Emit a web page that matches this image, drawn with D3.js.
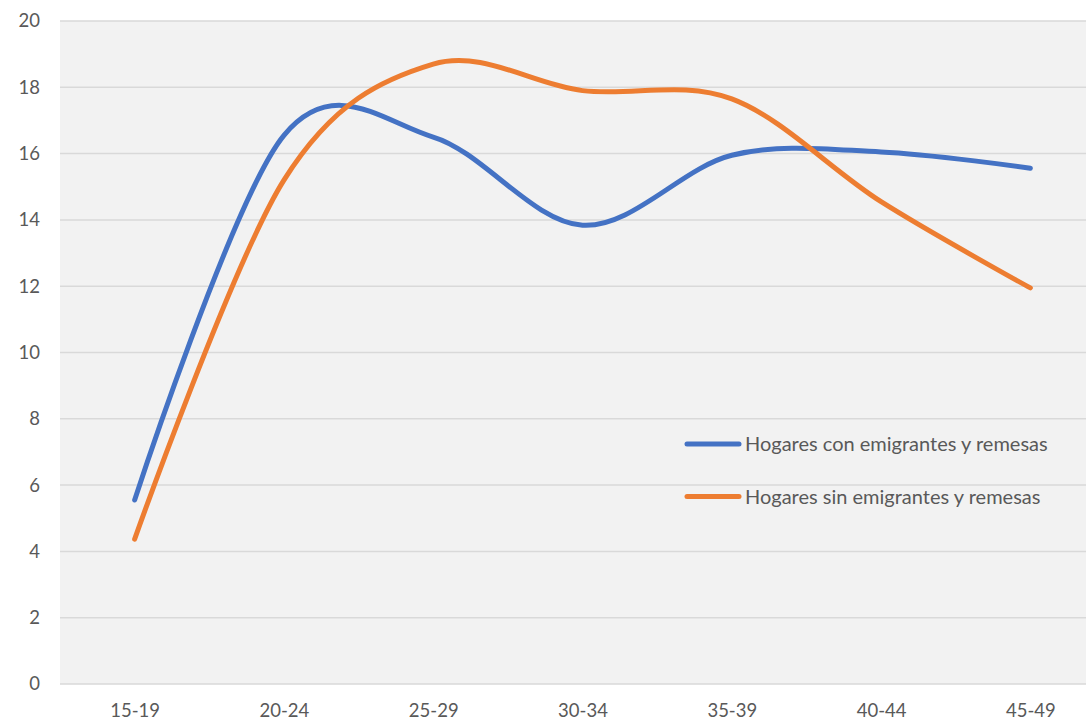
<!DOCTYPE html>
<html>
<head>
<meta charset="utf-8">
<script src="https://cdn.jsdelivr.net/npm/d3@7"></script>
<style>
  html, body { margin: 0; padding: 0; background: #ffffff; }
  svg { display: block; }
  text { font-family: Lato, "Open Sans", sans-serif; fill: #595959; }
</style>
</head>
<body>
<svg id="chart" width="1086" height="721"></svg>
<script>
// Age groups and the two household series
const categories = ["15-19", "20-24", "25-29", "30-34", "35-39", "40-44", "45-49"];
const conEmigrantes = [5.55, 16.55, 16.5, 13.84, 15.95, 16.05, 15.56];
const sinEmigrantes = [4.37, 15.2, 18.7, 17.9, 17.65, 14.55, 11.95];
const seriesNames = ["Hogares con emigrantes y remesas", "Hogares sin emigrantes y remesas"];
const seriesColors = ["#4472C4", "#ED7D31"];
const yTicks = [0, 2, 4, 6, 8, 10, 12, 14, 16, 18, 20];

const series = [
  { name: seriesNames[0], color: seriesColors[0], values: conEmigrantes },
  { name: seriesNames[1], color: seriesColors[1], values: sinEmigrantes }
];

const svg = d3.select("#chart");
const plot = { left: 60, right: 1105, top: 21, bottom: 684 };

const x = d3.scalePoint()
  .domain(categories)
  .range([plot.left, plot.right])
  .padding(0.5);

const y = d3.scaleLinear()
  .domain([0, 20])
  .range([plot.bottom, plot.top]);

// Plot area background
svg.append("rect")
  .attr("x", plot.left)
  .attr("y", plot.top)
  .attr("width", plot.right - plot.left)
  .attr("height", plot.bottom - plot.top)
  .attr("fill", "#f2f2f2");

// Horizontal gridlines
svg.append("g")
  .selectAll("line")
  .data(yTicks)
  .join("line")
  .attr("x1", plot.left)
  .attr("x2", plot.right)
  .attr("y1", d => y(d))
  .attr("y2", d => y(d))
  .attr("stroke", "#d9d9d9")
  .attr("stroke-width", 1.5);

// Y axis labels
const yAxis = svg.append("g")
  .attr("transform", `translate(${plot.left - 20},0)`)
  .call(d3.axisLeft(y).tickValues(yTicks).tickSize(0).tickPadding(0));
yAxis.select(".domain").remove();
yAxis.selectAll("text")
  .attr("font-size", 18.5)
  .attr("fill", "#595959")
  .style("font-family", "Lato, 'Open Sans', sans-serif");

// X axis labels
const xAxis = svg.append("g")
  .attr("transform", `translate(0,${plot.bottom})`)
  .call(d3.axisBottom(x).tickSize(0).tickPadding(20));
xAxis.select(".domain").remove();
xAxis.selectAll("text")
  .attr("font-size", 18.5)
  .attr("fill", "#595959")
  .style("font-family", "Lato, 'Open Sans', sans-serif");

// Smoothed lines
const line = d3.line()
  .x((d, i) => x(categories[i]))
  .y(d => y(d))
  .curve(d3.curveCardinal.tension(0));

svg.append("g")
  .selectAll("path")
  .data(series)
  .join("path")
  .attr("d", d => line(d.values))
  .attr("fill", "none")
  .attr("stroke", d => d.color)
  .attr("stroke-width", 5)
  .attr("stroke-linecap", "round")
  .attr("stroke-linejoin", "round");

// Legend
const legend = svg.append("g").attr("transform", "translate(687,444)");
const items = legend.selectAll("g")
  .data(series)
  .join("g")
  .attr("transform", (d, i) => `translate(0,${i * 52.5})`);
items.append("line")
  .attr("x1", 0).attr("x2", 52)
  .attr("y1", 0).attr("y2", 0)
  .attr("stroke", d => d.color)
  .attr("stroke-width", 5)
  .attr("stroke-linecap", "round");
items.append("text")
  .attr("x", 58)
  .attr("y", 0)
  .attr("dy", "0.35em")
  .attr("font-size", 20)
  .text(d => d.name);
</script>
</body>
</html>
